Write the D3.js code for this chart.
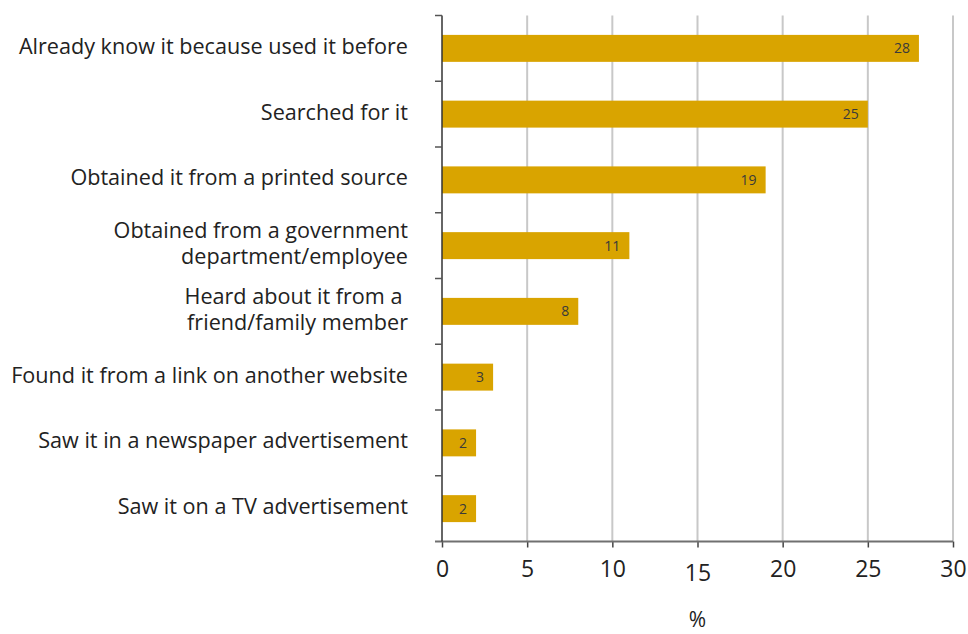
<!DOCTYPE html>
<html>
<head>
<meta charset="utf-8">
<script src="https://cdn.jsdelivr.net/npm/d3@7"></script>
<style>
    body { margin: 0; background: #fff; }
    text { font-family: "Open Sans", sans-serif; }
</style>
</head>
<body>
<div id="chart"></div>
<script>
    'use strict';

    var categories = [
        ['Already know it because used it before'],
        ['Searched for it'],
        ['Obtained it from a printed source'],
        ['Obtained from a government', 'department/employee'],
        ['Heard about it from a ', 'friend/family member'],
        ['Found it from a link on another website'],
        ['Saw it in a newspaper advertisement'],
        ['Saw it on a TV advertisement']
    ];
    var values = [28, 25, 19, 11, 8, 3, 2, 2];
    var xTicks = [0, 5, 10, 15, 20, 25, 30];

    var width = 968;
    var height = 634;
    var margin = { top: 15.5, right: 15, bottom: 92.5, left: 442 };
    var plotW = width - margin.left - margin.right;
    var plotH = height - margin.top - margin.bottom;
    var barColor = '#d9a400';

    var svg = d3.select('#chart')
        .append('svg')
        .attr('width', width)
        .attr('height', height);

    var g = svg.append('g')
        .attr('transform', 'translate(' + margin.left + ',' + margin.top + ')');

    var x = d3.scaleLinear().domain([0, 30]).range([0, plotW]);
    var y = d3.scaleBand()
        .domain(d3.range(categories.length))
        .range([0, plotH])
        .paddingInner(0.59)
        .paddingOuter(0.295);
    var yStep = plotH / categories.length;

    // gridlines
    g.selectAll('.grid')
        .data(xTicks.slice(1))
        .enter().append('line')
        .attr('x1', function (d) { return x(d); })
        .attr('x2', function (d) { return x(d); })
        .attr('y1', 0)
        .attr('y2', plotH)
        .attr('stroke', '#c8c8c8')
        .attr('stroke-width', 2);

    // bars
    g.selectAll('.bar')
        .data(values)
        .enter().append('rect')
        .attr('x', 0)
        .attr('y', function (d, i) { return y(i); })
        .attr('width', function (d) { return x(d); })
        .attr('height', y.bandwidth())
        .attr('fill', barColor);

    // value labels
    g.selectAll('.val')
        .data(values)
        .enter().append('text')
        .attr('x', function (d) { return x(d) - 9; })
        .attr('y', function (d, i) { return y(i) + y.bandwidth() / 2; })
        .attr('dy', '0.36em')
        .attr('text-anchor', 'end')
        .attr('font-size', 14)
        .attr('fill', '#3a3a3a')
        .text(function (d) { return d; });

    // x axis
    var xAxis = g.append('g')
        .attr('transform', 'translate(0,' + plotH + ')')
        .call(d3.axisBottom(x).tickValues(xTicks).tickSize(6).tickSizeOuter(0));
    xAxis.select('.domain').remove();
    xAxis.append('line')
        .attr('x1', -7).attr('x2', plotW)
        .attr('stroke', '#707070').attr('stroke-width', 2);
    xAxis.selectAll('.tick line').attr('stroke', '#444').attr('stroke-width', 1.5);
    xAxis.selectAll('.tick text')
        .attr('font-size', 23)
        .attr('fill', '#222')
        .attr('y', 18)
        .attr('dy', function (d) { return d === 15 ? '0.95em' : '0.78em'; });

    // y axis line and category ticks
    g.append('line')
        .attr('x1', 0).attr('x2', 0)
        .attr('y1', 0).attr('y2', plotH)
        .attr('stroke', '#333').attr('stroke-width', 1.5);
    g.selectAll('.ytick')
        .data(d3.range(categories.length))
        .enter().append('line')
        .attr('x1', -7).attr('x2', 0)
        .attr('y1', function (d) { return d * yStep; })
        .attr('y2', function (d) { return d * yStep; })
        .attr('stroke', '#555').attr('stroke-width', 1.5);

    // category labels
    var lineH = 26;
    var labels = g.selectAll('.cat')
        .data(categories)
        .enter().append('text')
        .attr('text-anchor', 'end')
        .attr('font-size', 21.6)
        .attr('fill', '#222')
        .style('white-space', 'pre')
        .attr('transform', function (d, i) {
            var cy = y(i) + y.bandwidth() / 2 - (d.length - 1) * lineH / 2 - 2;
            return 'translate(-34,' + cy + ')';
        });
    labels.selectAll('tspan')
        .data(function (d) { return d; })
        .enter().append('tspan')
        .attr('x', 0)
        .attr('y', function (d, i) { return i * lineH; })
        .attr('dy', '0.35em')
        .text(function (d) { return d; });

    // axis title
    svg.append('text')
        .attr('x', margin.left + x(15))
        .attr('y', 627)
        .attr('text-anchor', 'middle')
        .attr('font-size', 21)
        .attr('fill', '#222')
        .text('%');
</script>
</body>
</html>
